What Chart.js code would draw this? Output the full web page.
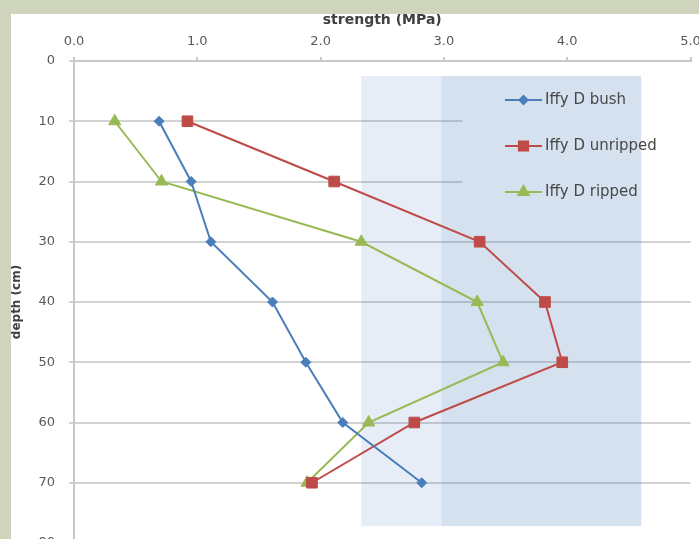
<!DOCTYPE html>
<html>
<head>
<meta charset="utf-8">
<script src="https://cdn.jsdelivr.net/npm/chart.js@4.4.1/dist/chart.umd.min.js"></script>
<style>
  html, body { margin: 0; padding: 0; width: 699px; height: 539px; overflow: hidden; background: #cfd5bd; }
  #panel { position: absolute; left: 11px; top: 14px; width: 688px; height: 545px; background: #fff; }
</style>
</head>
<body>
<div id="panel"><canvas id="chart"></canvas></div>
<script>
// depth in cm, strength in MPa
var depths = [10, 20, 30, 40, 50, 60, 70];
var bush = [0.69, 0.95, 1.11, 1.61, 1.88, 2.18, 2.82];
var unripped = [0.92, 2.11, 3.29, 3.82, 3.96, 2.76, 1.93];
var ripped = [0.33, 0.71, 2.33, 3.27, 3.48, 2.39, 1.89];
var seriesNames = ['Iffy D bush', 'Iffy D unripped', 'Iffy D ripped'];

// shaded strength bands (MPa) and their depth span (cm)
var bandLight = [2.33, 2.98];
var bandDark = [2.98, 4.6];
var bandDepth = [2.5, 77.2];

function pts(vals) {
  return depths.map(function (d, i) { return { x: vals[i], y: d }; });
}

var grey = '#595959';

// legend box (white) + shading, drawn under the lines
var bands = {
  id: 'bands',
  beforeDatasetsDraw: function (chart) {
    var ctx = chart.ctx, x = chart.scales.x, y = chart.scales.y, a = chart.chartArea;
    ctx.save();
    ctx.fillStyle = '#fff';
    var lx = x.getPixelForValue(3.15);
    ctx.fillRect(lx, y.getPixelForValue(4), a.right + 2 - lx, y.getPixelForValue(26) - y.getPixelForValue(4));
    var top = y.getPixelForValue(bandDepth[0]), bot = y.getPixelForValue(bandDepth[1]);
    ctx.fillStyle = 'rgba(79,129,189,0.14)';
    ctx.fillRect(x.getPixelForValue(bandLight[0]), top, x.getPixelForValue(bandLight[1]) - x.getPixelForValue(bandLight[0]), bot - top);
    ctx.fillStyle = 'rgba(79,129,189,0.24)';
    ctx.fillRect(x.getPixelForValue(bandDark[0]), top, x.getPixelForValue(bandDark[1]) - x.getPixelForValue(bandDark[0]), bot - top);
    ctx.restore();
  }
};

var legendBox = {
  id: 'legendBox',
  afterDatasetsDraw: function (chart) {
    var ctx = chart.ctx, a = chart.chartArea;
    ctx.save();
    chart.data.datasets.forEach(function (ds, i) {
      var yy = a.top + 39 + i * 46;
      var x0 = a.left + 431, x1 = a.left + 468;
      ctx.strokeStyle = ds.borderColor;
      ctx.lineWidth = 2;
      ctx.beginPath();
      ctx.moveTo(x0, yy);
      ctx.lineTo(x1, yy);
      ctx.stroke();
      ctx.fillStyle = ds.backgroundColor;
      Chart.helpers.drawPoint(ctx, {
        pointStyle: ds.pointStyle, radius: ds.pointRadius - 1, borderWidth: 1, rotation: 0
      }, (x0 + x1) / 2, yy);
      ctx.fillStyle = '#484848';
      ctx.font = '15px "DejaVu Sans"';
      ctx.textBaseline = 'middle';
      ctx.textAlign = 'left';
      ctx.fillText(ds.label, x1 + 3, yy);
    });
    ctx.restore();
  }
};

function series(label, vals, color, style, r) {
  return {
    label: label,
    data: pts(vals),
    showLine: true,
    borderColor: color,
    backgroundColor: color,
    borderWidth: 2,
    pointStyle: style,
    pointRadius: r,
    pointBackgroundColor: color,
    pointBorderColor: color,
    pointBorderWidth: 1
  };
}

new Chart(document.getElementById('chart'), {
  type: 'scatter',
  data: {
    datasets: [
      series(seriesNames[0], bush, '#4a7ebb', 'rectRot', 5),
      series(seriesNames[1], unripped, '#be4b48', 'rect', 7.5),
      series(seriesNames[2], ripped, '#98b954', 'triangle', 7)
    ]
  },
  options: {
    responsive: true,
    maintainAspectRatio: false,
    animation: false,
    devicePixelRatio: 1,
    layout: { padding: { left: 0, top: 0, right: 5, bottom: 16 } },
    plugins: { legend: { display: false }, tooltip: { enabled: false } },
    scales: {
      x: {
        type: 'linear',
        position: 'top',
        min: 0,
        max: 5,
        afterFit: function (s) { s.height = 47; s.paddingLeft = 0; s.paddingRight = 0; },
        ticks: {
          stepSize: 1,
          padding: 8,
          color: grey,
          font: { family: 'DejaVu Sans', size: 13 },
          maxRotation: 0,
          callback: function (v) { return Number(v).toFixed(1); }
        },
        grid: { drawOnChartArea: false, tickLength: 4, color: '#c8c8c8', lineWidth: 2 },
        border: { color: '#c8c8c8', width: 2 },
        title: {
          display: true,
          text: 'strength (MPa)',
          color: '#404040',
          padding: { top: 0, bottom: 0 },
          font: { family: 'DejaVu Sans', size: 14, weight: 'bold', lineHeight: 0.9 }
        }
      },
      y: {
        type: 'linear',
        reverse: true,
        min: 0,
        max: 80,
        afterFit: function (s) { s.width = 63; s.paddingTop = 0; s.paddingBottom = 0; },
        ticks: {
          stepSize: 10,
          padding: 14,
          color: grey,
          font: { family: 'DejaVu Sans', size: 13 }
        },
        grid: { color: '#d2d2d2', lineWidth: 2, tickLength: 5 },
        border: { color: '#c8c8c8', width: 2 },
        title: {
          display: true,
          text: 'depth (cm)',
          color: '#404040',
          padding: { top: 0, bottom: 0 },
          font: { family: 'DejaVu Sans', size: 12, weight: 'bold', lineHeight: 1 }
        }
      }
    }
  },
  plugins: [bands, legendBox]
});
</script>
</body>
</html>
